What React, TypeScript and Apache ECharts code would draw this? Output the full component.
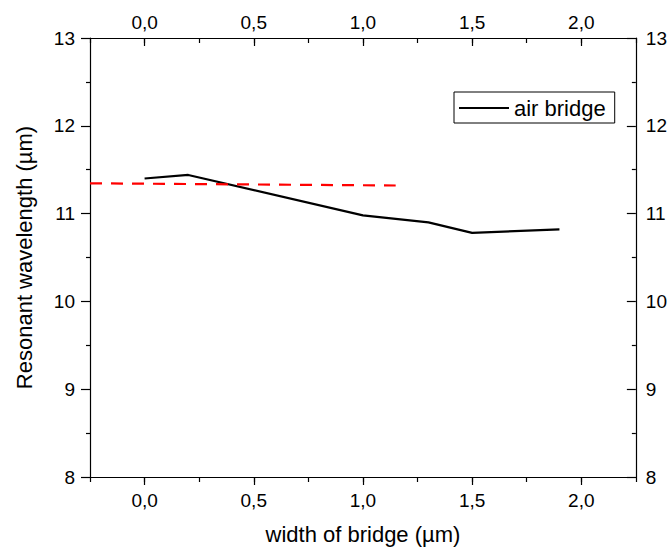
import React, { useEffect, useRef } from "react";
import * as echarts from "echarts";

const bridgeWidth = [0, 0.2, 1.0, 1.3, 1.5, 1.9];
const airBridgeWavelength = [11.4, 11.44, 10.98, 10.9, 10.78, 10.82];
const refLineX = [-0.25, 1.15];
const refLineY = [11.345, 11.32];
const xMajorTicks = [0, 0.5, 1.0, 1.5, 2.0];
const seriesName = "air bridge";
const xTitle = "width of bridge (µm)";
const yTitle = "Resonant wavelength (µm)";

const FONT = "'Liberation Sans', Arial, sans-serif";
const fmtX = (v: number) => v.toFixed(1).replace(".", ",");

export default function App() {
  const ref = useRef<HTMLDivElement>(null);
  useEffect(() => {
    document.body.style.margin = "0";
    const chart = echarts.init(ref.current!, null, { renderer: "svg" });
    const axisLine = { show: true, onZero: false, lineStyle: { color: "#000", width: 1.2 } };
    const baseX = {
      type: "value" as const,
      min: -0.25,
      max: 2.25,
      splitLine: { show: false },
    };
    const baseY = {
      type: "value" as const,
      min: 8,
      max: 13,
      interval: 1,
      splitLine: { show: false },
      axisLine,
      minorTick: { show: true, splitNumber: 2, length: 4, lineStyle: { color: "#000", width: 1.2 } },
    };
    chart.setOption({
      animation: false,
      textStyle: { fontFamily: FONT, color: "#000" },
      grid: { left: 90, right: 32, top: 38, bottom: 73, containLabel: false },
      legend: {
        data: [{ name: seriesName, icon: "rect" }],
        left: 454,
        top: 92,
        orient: "vertical",
        borderColor: "#000",
        borderWidth: 1,
        padding: [3, 9, 2, 5],
        itemWidth: 50,
        itemHeight: 2,
        itemStyle: { color: "#000", borderWidth: 0 },
        textStyle: { fontSize: 22, fontFamily: FONT, color: "#000", lineHeight: 26 },
      },
      xAxis: [
        {
          ...baseX,
          position: "bottom",
          axisLine,
          axisTick: { show: true, customValues: xMajorTicks, length: 8, lineStyle: { color: "#000", width: 1.2 } },
          axisLabel: { customValues: xMajorTicks, formatter: fmtX, fontSize: 19, margin: 14, color: "#000", fontFamily: FONT },
          name: xTitle,
          nameLocation: "middle",
          nameGap: 46,
          nameTextStyle: { fontSize: 22, fontFamily: FONT, color: "#000" },
        },
        {
          ...baseX,
          position: "bottom",
          interval: 0.25,
          axisLine: { show: false, onZero: false },
          axisTick: { show: true, length: 5, lineStyle: { color: "#000", width: 1.2 } },
          axisLabel: { show: false },
        },
        {
          ...baseX,
          position: "top",
          axisLine,
          axisTick: { show: true, inside: true, customValues: xMajorTicks, length: 8, lineStyle: { color: "#000", width: 1.2 } },
          axisLabel: { customValues: xMajorTicks, formatter: fmtX, fontSize: 19, margin: 6, color: "#000", fontFamily: FONT },
        },
        {
          ...baseX,
          position: "top",
          interval: 0.25,
          axisLine: { show: false, onZero: false },
          axisTick: { show: true, inside: true, length: 5, lineStyle: { color: "#000", width: 1.2 } },
          axisLabel: { show: false },
        },
      ],
      yAxis: [
        {
          ...baseY,
          position: "left",
          axisTick: { show: true, length: 9, lineStyle: { color: "#000", width: 1.2 } },
          axisLabel: { fontSize: 19, margin: 15, color: "#000", fontFamily: FONT },
          name: yTitle,
          nameLocation: "middle",
          nameGap: 55,
          nameTextStyle: { fontSize: 22, fontFamily: FONT, color: "#000" },
        },
        {
          ...baseY,
          position: "right",
          axisTick: { show: true, inside: true, length: 9, lineStyle: { color: "#000", width: 1.2 } },
          axisLabel: { fontSize: 19, margin: 10, color: "#000", fontFamily: FONT },
        },
      ],
      series: [
        {
          name: seriesName,
          type: "line",
          xAxisIndex: 0,
          yAxisIndex: 0,
          symbol: "none",
          data: bridgeWidth.map((x, i) => [x, airBridgeWavelength[i]]),
          lineStyle: { color: "#000", width: 2.2 },
          itemStyle: { color: "#000" },
        },
        {
          name: "reference",
          type: "line",
          xAxisIndex: 0,
          yAxisIndex: 0,
          symbol: "none",
          data: refLineX.map((x, i) => [x, refLineY[i]]),
          lineStyle: { color: "#ff0000", width: 2.2, type: [12, 9] },
          itemStyle: { color: "#ff0000" },
        },
      ],
    });
    return () => chart.dispose();
  }, []);
  return <div ref={ref} style={{ width: 670, height: 550 }} />;
}
